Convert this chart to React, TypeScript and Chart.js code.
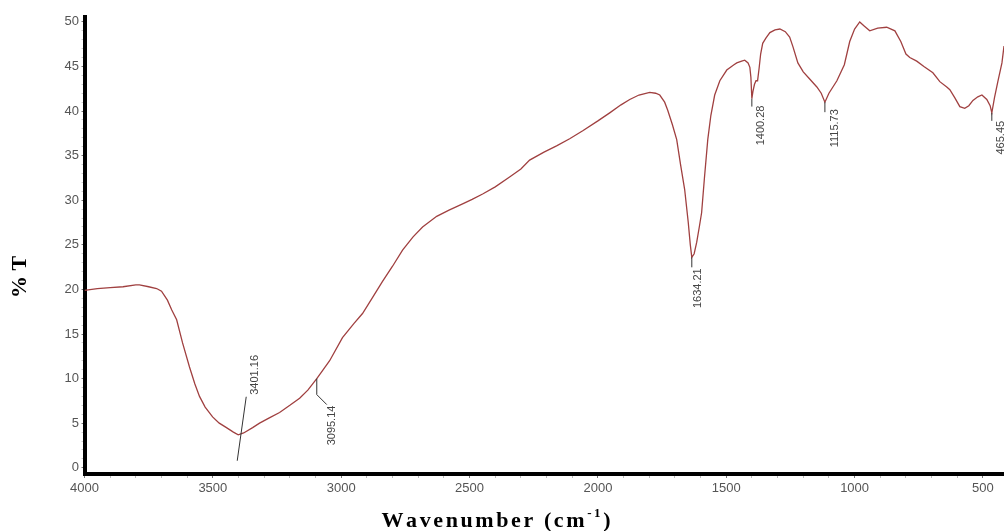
import { useEffect, useRef } from 'react';
import { Chart, registerables } from 'chart.js';

Chart.register(...registerables);

// Spectrum (wavenumber in cm-1, %T)
const wavenumbers = [
  4000, 3950, 3900, 3850, 3800, 3786, 3750, 3719, 3700, 3677, 3660, 3641, 3618, 3591, 3570, 3552,
  3530, 3501, 3475, 3447, 3420, 3401.16, 3380, 3345, 3318, 3280, 3240, 3200, 3162, 3130, 3095.14,
  3070, 3045, 2995, 2950, 2917, 2880, 2839, 2800, 2761, 2720, 2683, 2628, 2580, 2527, 2490, 2449,
  2400, 2344, 2300, 2266, 2210, 2161, 2110, 2059, 2000, 1954, 1910, 1876, 1840, 1798, 1775, 1759,
  1740, 1728, 1710, 1693, 1678, 1662, 1648, 1640, 1634.21, 1625, 1615, 1605, 1596, 1585, 1572, 1560,
  1545, 1525, 1498, 1470, 1459, 1440, 1428, 1415, 1408, 1404, 1400.28, 1396, 1390, 1384, 1378, 1372,
  1366, 1358, 1345, 1330, 1310, 1291, 1270, 1253, 1240, 1221, 1200, 1175, 1147, 1130, 1115.73, 1100,
  1069, 1040, 1019, 1000, 980, 965, 941, 910, 875, 843, 820, 800, 785, 758, 730, 695, 668, 641, 629,
  610, 590, 571, 555, 539, 520, 504, 485, 472, 465.45, 455, 442, 426, 418,
];
const transmittance = [
  19.9, 20.1, 20.2, 20.3, 20.5, 20.5, 20.3, 20.1, 19.8, 18.8, 17.7, 16.6, 14.0, 11.3, 9.4, 8.0,
  6.8, 5.7, 5.0, 4.5, 4.0, 3.7, 3.9, 4.5, 5.0, 5.6, 6.2, 7.0, 7.8, 8.7, 10.0,
  11.0, 12.0, 14.6, 16.2, 17.3, 19.0, 20.9, 22.6, 24.4, 25.9, 27.0, 28.2, 28.9, 29.6, 30.1, 30.7,
  31.5, 32.6, 33.5, 34.5, 35.4, 36.1, 36.9, 37.8, 38.9, 39.8, 40.7, 41.3, 41.8, 42.1, 42.0, 41.8,
  41.0, 40.1, 38.5, 36.8, 34.0, 31.2, 27.5, 25.0, 23.6, 24.0, 25.3, 27.0, 28.6, 32.5, 36.8, 39.5,
  41.8, 43.4, 44.6, 45.2, 45.4, 45.6, 45.7, 45.4, 44.9, 43.8, 41.4, 42.2, 43.0, 43.4, 43.4, 44.8,
  46.4, 47.6, 48.2, 48.8, 49.1, 49.2, 48.9, 48.3, 47.2, 45.4, 44.4, 43.6, 42.7, 42.0, 41.0, 42.0,
  43.4, 45.2, 47.8, 49.2, 50.0, 49.6, 49.0, 49.3, 49.4, 49.0, 47.8, 46.4, 46.0, 45.6, 45.0, 44.3, 43.3, 42.7, 42.4,
  41.5, 40.5, 40.3, 40.6, 41.2, 41.6, 41.8, 41.3, 40.6, 39.8, 41.5, 43.3, 45.4, 47.3,
];

const xTickLabels = [4000, 3500, 3000, 2500, 2000, 1500, 1000, 500];
const xMinorStep = 100;
const yTickLabels = [0, 5, 10, 15, 20, 25, 30, 35, 40, 45, 50];
const yMinorStep = 1;

const peakLabels = ['3401.16', '3095.14', '1634.21', '1400.28', '1115.73', '465.45'];
const peakWavenumbers = [3401.16, 3095.14, 1634.21, 1400.28, 1115.73, 465.45];

const xTitle = 'Wavenumber (cm';
const xTitleSup = '-1';
const xTitleEnd = ')';
const yTitle = '% T';

// leader-line / label offsets (pixels, relative to the peak point)
const peakLeaderStyles = [
  { path: [[-1, 26], [8, -38]], tx: 17, ty: -40, align: 'left' },
  { path: [[0, 0], [0, 16], [10, 26]], tx: 15, ty: 27, align: 'right' },
  { path: [[0, 0], [0, 10]], tx: 6, ty: 11, align: 'right' },
  { path: [[0, 0], [0, 8]], tx: 9, ty: 7, align: 'right' },
  { path: [[0, 0], [0, 10]], tx: 10, ty: 7, align: 'right' },
  { path: [[0, 0], [0, 8]], tx: 9, ty: 8, align: 'right' },
];

const peakPlugin = {
  id: 'peakLabels',
  afterDatasetsDraw(chart: any) {
    const { ctx, scales } = chart;
    ctx.save();
    peakWavenumbers.forEach((w, i) => {
      const idx = wavenumbers.indexOf(w);
      const px = scales.x.getPixelForValue(w);
      const py = scales.y.getPixelForValue(transmittance[idx]);
      const st = peakLeaderStyles[i];
      ctx.strokeStyle = '#333';
      ctx.lineWidth = 1;
      ctx.beginPath();
      st.path.forEach(([dx, dy], k) => {
        if (k === 0) ctx.moveTo(px + dx, py + dy);
        else ctx.lineTo(px + dx, py + dy);
      });
      ctx.stroke();
      ctx.save();
      ctx.translate(px + st.tx, py + st.ty);
      ctx.rotate(-Math.PI / 2);
      ctx.fillStyle = '#444';
      ctx.font = '11px "Liberation Sans", Arial, sans-serif';
      ctx.textAlign = st.align;
      ctx.textBaseline = 'middle';
      ctx.fillText(peakLabels[i], 0, 0);
      ctx.restore();
    });
    ctx.restore();
  },
};

const titlePlugin = {
  id: 'axisTitles',
  afterDraw(chart: any) {
    const { ctx } = chart;
    ctx.save();
    ctx.fillStyle = '#000';
    const spacing = 2.6;
    const parts = [
      { t: xTitle, size: 22, dy: 0 },
      { t: xTitleSup, size: 13, dy: -10 },
      { t: xTitleEnd, size: 22, dy: 0 },
    ];
    let total = 0;
    parts.forEach((p) => {
      ctx.font = `bold ${p.size}px "Liberation Serif", "Times New Roman", serif`;
      for (const ch of p.t) total += ctx.measureText(ch).width + spacing;
    });
    total -= spacing;
    let x = 496 - total / 2;
    const base = 527;
    ctx.textBaseline = 'alphabetic';
    ctx.textAlign = 'left';
    parts.forEach((p) => {
      ctx.font = `bold ${p.size}px "Liberation Serif", "Times New Roman", serif`;
      for (const ch of p.t) {
        ctx.fillText(ch, x, base + p.dy);
        x += ctx.measureText(ch).width + spacing;
      }
    });
    ctx.save();
    ctx.translate(20, 277);
    ctx.rotate(-Math.PI / 2);
    ctx.font = 'bold 22px "Liberation Serif", "Times New Roman", serif';
    ctx.textAlign = 'center';
    ctx.textBaseline = 'middle';
    ctx.fillText(yTitle, 0, 0);
    ctx.restore();
    ctx.restore();
  },
};

export default function App() {
  const ref = useRef<HTMLCanvasElement | null>(null);
  useEffect(() => {
    if (!ref.current) return;
    const xTicksAll: number[] = [];
    for (let v = xTickLabels[0]; v >= xTickLabels[xTickLabels.length - 1]; v -= xMinorStep) xTicksAll.push(v);
    const yTicksAll: number[] = [];
    for (let v = yTickLabels[0]; v <= yTickLabels[yTickLabels.length - 1]; v += yMinorStep) yTicksAll.push(v);
    const chart = new Chart(ref.current, {
      type: 'line',
      data: {
        datasets: [
          {
            data: wavenumbers.map((w, i) => ({ x: w, y: transmittance[i] })),
            borderColor: '#a04040',
            borderWidth: 1.3,
            pointRadius: 0,
            tension: 0,
            fill: false,
          },
        ],
      },
      options: {
        responsive: false,
        animation: false,
        layout: { padding: { left: 0, right: 0, top: 17, bottom: 0 } },
        plugins: { legend: { display: false }, tooltip: { enabled: false }, title: { display: false } },
        scales: {
          x: {
            type: 'linear',
            reverse: true,
            min: 418,
            max: 4000,
            afterBuildTicks: (s: any) => {
              s.ticks = xTicksAll.map((v) => ({ value: v }));
            },
            afterFit: (s: any) => {
              s.height = 57;
            },
            ticks: {
              autoSkip: false,
              maxRotation: 0,
              padding: 3,
              color: '#555',
              font: { family: '"Liberation Sans", Arial, sans-serif', size: 13 },
              callback: (v: any) => (xTickLabels.includes(Number(v)) ? String(v) : ''),
            },
            grid: {
              drawOnChartArea: false,
              drawTicks: true,
              tickLength: 4,
              tickColor: (c: any) => (c.tick && xTickLabels.includes(c.tick.value) ? '#777' : '#bbb'),
            },
            border: { display: true, color: '#000', width: 4 },
          },
          y: {
            type: 'linear',
            min: -0.7,
            max: 50.55,
            afterBuildTicks: (s: any) => {
              s.ticks = yTicksAll.map((v) => ({ value: v }));
            },
            afterFit: (s: any) => {
              s.width = 84.5;
            },
            ticks: {
              autoSkip: false,
              padding: 2.5,
              color: '#555',
              font: { family: '"Liberation Sans", Arial, sans-serif', size: 13 },
              callback: (v: any) => (yTickLabels.includes(Number(v)) ? String(v) : ''),
            },
            grid: {
              drawOnChartArea: false,
              drawTicks: true,
              tickLength: 3,
              tickColor: (c: any) => (c.tick && yTickLabels.includes(c.tick.value) ? '#777' : '#ccc'),
            },
            border: { display: true, color: '#000', width: 4 },
          },
        },
      } as any,
      plugins: [peakPlugin, titlePlugin],
    });
    return () => chart.destroy();
  }, []);
  return (
    <div style={{ position: 'absolute', left: 0, top: 0, width: 1004, height: 531, background: '#fff' }}>
      <canvas ref={ref} width={1004} height={531} style={{ width: 1004, height: 531, display: 'block' }} />
    </div>
  );
}
